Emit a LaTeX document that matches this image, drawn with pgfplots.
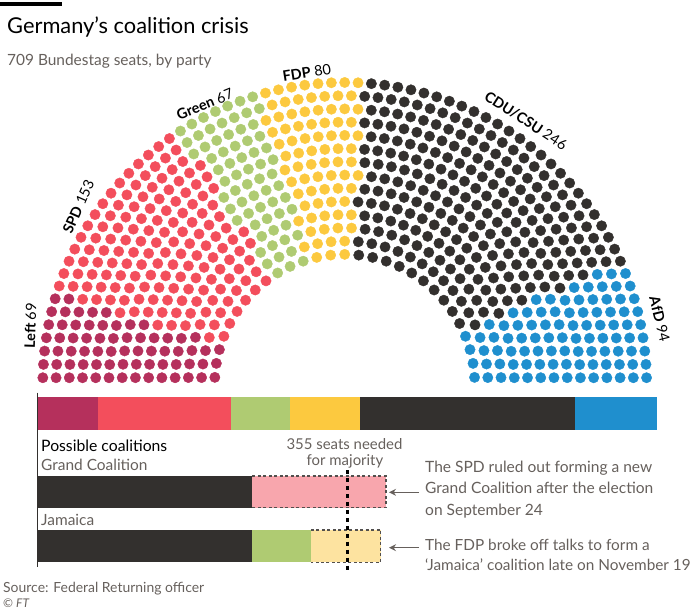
\documentclass[border=0pt]{standalone}
\usepackage{pgfplots}
\pgfplotsset{compat=1.18}
\usetikzlibrary{arrows.meta}
\usepackage{fontspec}
\setmainfont{Lato}

\definecolor{cLeft}{HTML}{B5305C}
\definecolor{cSPD}{HTML}{F34E5C}
\definecolor{cGreen}{HTML}{AFCB72}
\definecolor{cFDP}{HTML}{FCC93F}
\definecolor{cCDU}{HTML}{33302E}
\definecolor{cAfD}{HTML}{1F8FCE}
\definecolor{cSPDlight}{HTML}{F8A6AD}
\definecolor{cFDPlight}{HTML}{FDE3A0}
\definecolor{ftgrey}{HTML}{66605C}
\definecolor{ftdark}{HTML}{33302E}

% ---- data: seats per party (Left, SPD, Green, FDP, CDU/CSU, AfD)
\def\sLeft{69}\def\sSPD{153}\def\sGreen{67}\def\sFDP{80}\def\sCDU{246}\def\sAfD{94}
% seats in each row of the hemicycle, inner to outer (total 709)
\def\ringn#1{\ifcase#1 29\or 33\or 36\or 40\or 43\or 46\or 49\or 52\or 56\or 59\or 62\or 65\or 68\or 71\fi}

% ---- hemicycle layout: seats ordered by angle, parties assigned in order
\newcount\Ri \newcount\Rk \newcount\Rj \newcount\Rrank
\newcount\RA \newcount\RB \newcount\RC \newcount\RD
\edef\cA{\the\numexpr\sLeft\relax}
\edef\cB{\the\numexpr\cA+\sSPD\relax}
\edef\cC{\the\numexpr\cB+\sGreen\relax}
\edef\cD{\the\numexpr\cC+\sFDP\relax}
\edef\cE{\the\numexpr\cD+\sCDU\relax}
\gdef\SeatsA{}\gdef\SeatsB{}\gdef\SeatsC{}\gdef\SeatsD{}\gdef\SeatsE{}\gdef\SeatsF{}
\def\rankloop{%
  \ifnum\Rj<14
    \edef\nJ{\ringn{\the\Rj}}%
    \RA=\numexpr(2*\Rk+1)*\nJ-\nI\relax
    \RD=\numexpr2*\nI\relax
    \ifnum\RA>0
      \RB=\numexpr\RA+\RD-1\relax
      \divide\RB by \RD
      \advance\Rrank by \RB
    \fi
    \ifnum\Rj>\Ri
      \ifnum\RA<0 \else
        \RC=\RA
        \divide\RC by \RD
        \multiply\RC by \RD
        \ifnum\RC=\RA \advance\Rrank by 1 \fi
      \fi
    \fi
    \advance\Rj by 1
    \expandafter\rankloop
  \fi}
\def\seatloop{%
  \ifnum\Rk<\nI\relax
    \Rrank=0 \Rj=0 \rankloop
    \ifnum\Rrank<\cA\relax \def\curp{A}\else
    \ifnum\Rrank<\cB\relax \def\curp{B}\else
    \ifnum\Rrank<\cC\relax \def\curp{C}\else
    \ifnum\Rrank<\cD\relax \def\curp{D}\else
    \ifnum\Rrank<\cE\relax \def\curp{E}\else
    \def\curp{F}\fi\fi\fi\fi\fi
    \pgfmathsetmacro\Sang{180-180*(\the\Rk+0.5)/\nI}%
    \pgfmathsetmacro\Sxx{344.7+\Srad*cos(\Sang)}%
    \pgfmathsetmacro\Syy{384.4-\Srad*sin(\Sang)}%
    \expandafter\xdef\csname Seats\curp\endcsname{\csname Seats\curp\endcsname(\Sxx,\Syy)}%
    \advance\Rk by 1
    \expandafter\seatloop
  \fi}
\def\ringloop{%
  \ifnum\Ri<14
    \edef\nI{\ringn{\the\Ri}}%
    \pgfmathsetmacro\Srad{308.6*(0.4+0.6/14*(\the\Ri+0.5))}%
    \Rk=0
    \seatloop
    \advance\Ri by 1
    \expandafter\ringloop
  \fi}
\Ri=0
\ringloop

\pgfplotsset{seat/.style={only marks, mark=*, mark size=5.2pt, mark options={draw=none}}}
% #1 polar angle, #2 radius of baseline, #3 rotation, #4 bold name, #5 seats
\newcommand\plabel[5]{\node[anchor=base, inner sep=0pt, rotate=#3, font=\fontsize{14.5}{16}\selectfont]
  at (axis cs:{344.7+#2*cos(#1)},{384.4-#2*sin(#1)}) {\textbf{#4} #5};}

\begin{document}
\begin{tikzpicture}
\begin{axis}[name=frame, at={(0,0)}, anchor=north west, scale only axis,
  width=691bp, height=610bp, xmin=0, xmax=691, ymin=0, ymax=610,
  y dir=reverse, hide axis, clip=false]
\path (axis cs:0,0) rectangle (axis cs:691,610);
\edef\tmp{\noexpand\addplot[seat, cLeft] coordinates {\SeatsA};}\tmp
\edef\tmp{\noexpand\addplot[seat, cSPD] coordinates {\SeatsB};}\tmp
\edef\tmp{\noexpand\addplot[seat, cGreen] coordinates {\SeatsC};}\tmp
\edef\tmp{\noexpand\addplot[seat, cFDP] coordinates {\SeatsD};}\tmp
\edef\tmp{\noexpand\addplot[seat, cCDU] coordinates {\SeatsE};}\tmp
\edef\tmp{\noexpand\addplot[seat, cAfD] coordinates {\SeatsF};}\tmp
% title block
\fill[black] (axis cs:0,2) rectangle (axis cs:62,6);
\node[anchor=base west, inner sep=0pt, font=\fontsize{21.9}{25}\selectfont, text=black] at (axis cs:7,33.3) {Germany’s coalition crisis};
\node[anchor=base west, inner sep=0pt, font=\fontsize{15.5}{17}\selectfont, text=ftgrey] at (axis cs:7,65) {709 Bundestag seats, by party};
% party labels
\plabel{169.3}{314.5}{88}{Left}{69}
\plabel{146.1}{315}{66}{SPD}{153}
\plabel{116.6}{308}{22}{Green}{67}
\plabel{96.9}{309}{9}{FDP}{80}
\plabel{55.5}{315}{-33}{CDU/CSU}{246}
\plabel{11.7}{316.5}{-76}{AfD}{94}
% lower texts
\node[anchor=base west, inner sep=0pt, font=\fontsize{15.8}{17}\selectfont, text=black] at (axis cs:41,451) {Possible coalitions};
\node[anchor=base west, inner sep=0pt, font=\fontsize{15.5}{17}\selectfont, text=ftgrey] at (axis cs:41,470.7) {Grand Coalition};
\node[anchor=base west, inner sep=0pt, font=\fontsize{15.5}{17}\selectfont, text=ftgrey] at (axis cs:41,525) {Jamaica};
\node[anchor=base, inner sep=0pt, font=\fontsize{15}{17}\selectfont, text=ftgrey] at (axis cs:344.5,449.3) {355 seats needed};
\node[anchor=base, inner sep=0pt, font=\fontsize{15}{17}\selectfont, text=ftgrey] at (axis cs:345,465) {for majority};
\node[anchor=base west, inner sep=0pt, font=\fontsize{15.6}{17}\selectfont, text=ftgrey] at (axis cs:425,472.3) {The SPD ruled out forming a new};
\node[anchor=base west, inner sep=0pt, font=\fontsize{15.6}{17}\selectfont, text=ftgrey] at (axis cs:425,493.6) {Grand Coalition after the election};
\node[anchor=base west, inner sep=0pt, font=\fontsize{15.6}{17}\selectfont, text=ftgrey] at (axis cs:425,515) {on September 24};
\node[anchor=base west, inner sep=0pt, font=\fontsize{15.4}{17}\selectfont, text=ftgrey] at (axis cs:425,550) {The FDP broke off talks to form a};
\node[anchor=base west, inner sep=0pt, font=\fontsize{15.4}{17}\selectfont, text=ftgrey] at (axis cs:425,570.7) {‘Jamaica’ coalition late on November 19};
\draw[ftgrey, line width=1.4pt, -{Stealth[length=7pt,width=7pt]}] (axis cs:419,492.3) -- (axis cs:389,492.3);
\draw[ftgrey, line width=1.4pt, -{Stealth[length=7pt,width=7pt]}] (axis cs:419,547.7) -- (axis cs:389,547.7);
\node[anchor=base west, inner sep=0pt, font=\fontsize{14}{16}\selectfont, text=ftgrey] at (axis cs:3,592.3) {Source: Federal Returning officer};
\node[anchor=base west, inner sep=0pt, font=\fontsize{12}{14}\selectfont, text=ftgrey] at (axis cs:3,607) {© \textit{FT}};
\end{axis}

\begin{axis}[at={(37.7bp,-390bp)}, anchor=north west, scale only axis,
  width=618.9bp, height=185bp, xmin=0, xmax=709, ymin=390, ymax=575,
  y dir=reverse, hide axis, clip=false]
% all parties, stacked (cumulative 69, 222, 289, 369, 615, 709)
\addplot[fill=cLeft, draw=none] coordinates {(0,397.3) (69,397.3) (69,430) (0,430)} -- cycle;
\addplot[fill=cSPD, draw=none] coordinates {(69,397.3) (222,397.3) (222,430) (69,430)} -- cycle;
\addplot[fill=cGreen, draw=none] coordinates {(222,397.3) (289,397.3) (289,430) (222,430)} -- cycle;
\addplot[fill=cFDP, draw=none] coordinates {(289,397.3) (369,397.3) (369,430) (289,430)} -- cycle;
\addplot[fill=cCDU, draw=none] coordinates {(369,397.3) (615,397.3) (615,430) (369,430)} -- cycle;
\addplot[fill=cAfD, draw=none] coordinates {(615,397.3) (709,397.3) (709,430) (615,430)} -- cycle;
% Grand Coalition: CDU/CSU 246 + SPD 153
\addplot[fill=cCDU, draw=none] coordinates {(0,476) (246,476) (246,507.7) (0,507.7)} -- cycle;
\addplot[fill=cSPDlight, draw=none] coordinates {(246,476) (399,476) (399,507.7) (246,507.7)} -- cycle;
\addplot[draw=ftdark!85, line width=1.1pt, dash pattern=on 3pt off 2.5pt] coordinates {(246,476) (399,476) (399,507.7) (246,507.7)};
% Jamaica: CDU/CSU 246 + Green 67 + FDP 80
\addplot[fill=cCDU, draw=none] coordinates {(0,530) (246,530) (246,562.3) (0,562.3)} -- cycle;
\addplot[fill=cGreen, draw=none] coordinates {(246,530) (313,530) (313,562.3) (246,562.3)} -- cycle;
\addplot[fill=cFDPlight, draw=none] coordinates {(313,530) (393,530) (393,562.3) (313,562.3)} -- cycle;
\addplot[draw=ftdark!85, line width=1.1pt, dash pattern=on 3pt off 2.5pt] coordinates {(313,530) (393,530) (393,562.3) (313,562.3)};
% majority line at 355 seats
\addplot[black, line width=2.6pt, dash pattern=on 4pt off 4pt] coordinates {(355,470) (355,572)};
% left axis line
\addplot[ftdark, line width=0.9pt] coordinates {(0,392.7) (0,566.7)};
\end{axis}
\end{tikzpicture}
\end{document}
